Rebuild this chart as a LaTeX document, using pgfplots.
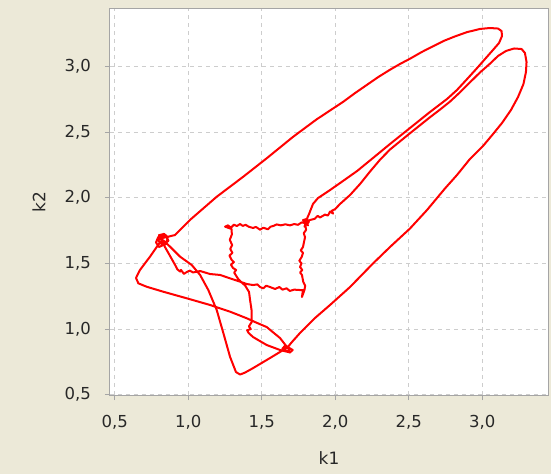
\documentclass[border=0pt]{standalone}
\usepackage{fontspec}
\setmainfont{DejaVu Sans}
\usepackage{pgfplots}
\pgfplotsset{compat=1.18}

\definecolor{panelbg}{RGB}{236,233,216}
\definecolor{gridgray}{RGB}{205,205,205}
\definecolor{framegray}{RGB}{165,165,165}
\definecolor{labelgray}{RGB}{40,40,40}

\begin{document}
\begin{tikzpicture}
% panel behind the chart
\fill[panelbg] (-110bp,-79bp) rectangle (441bp,395bp);
\useasboundingbox (-110bp,-79bp) rectangle (441bp,395bp);
\begin{axis}[
  at={(0,0)}, anchor=south west,
  scale only axis, width=438bp, height=386bp,
  xmin=0.467, xmax=3.447, ymin=0.497, ymax=3.439,
  xtick={0.5,1,1.5,2,2.5,3}, ytick={0.5,1,1.5,2,2.5,3},
  xticklabel={\pgfmathprintnumber[fixed,fixed zerofill,precision=1,use comma,assume math mode=true]{\tick}},
  yticklabel={\pgfmathprintnumber[fixed,fixed zerofill,precision=1,use comma,assume math mode=true]{\tick}},
  tick label style={font=\fontsize{16.5bp}{19bp}\selectfont, text=labelgray},
  xticklabel style={anchor=north, inner sep=0pt, yshift=-15.5bp},
  yticklabel style={anchor=east, inner sep=0pt, xshift=-14bp},
  tick align=outside, tick pos=left,
  major tick length=5bp,
  tick style={framegray, line width=1bp},
  axis line style={framegray, line width=1bp},
  axis background/.style={fill=white},
  grid=major,
  major grid style={gridgray, dash pattern=on 4bp off 4bp, line width=0.8bp},
  xlabel={k1}, ylabel={k2},
  label style={font=\fontsize{17bp}{20bp}\selectfont, text=labelgray},
  xlabel style={at={([yshift=-63bp]axis description cs:0.5,0)}, anchor=center},
  ylabel style={at={([xshift=-71bp]axis description cs:0,0.5)}, anchor=center},
]
% phase trajectory (k1, k2)
\addplot[red, line width=2bp, line join=round, line cap=round] coordinates {
(0.821,1.678) (0.800,1.715) (0.835,1.725) (0.860,1.700) (0.850,1.650)
(0.800,1.625) (0.780,1.660) (0.795,1.700) (0.845,1.712) (0.865,1.672)
(0.825,1.640) (0.790,1.680) (0.830,1.695)
(0.909,1.716) (1.011,1.831) (1.193,2.008) (1.374,2.161) (1.533,2.301)
(1.714,2.466) (1.873,2.598) (2.054,2.732) (2.134,2.798) (2.214,2.860)
(2.293,2.921) (2.372,2.976) (2.440,3.020) (2.508,3.060) (2.586,3.110)
(2.665,3.155) (2.740,3.197) (2.814,3.230) (2.894,3.262) (2.984,3.287)
(3.052,3.294) (3.107,3.290) (3.131,3.271) (3.134,3.233)
(3.114,3.180) (3.073,3.127) (3.025,3.066) (2.971,2.997) (2.903,2.913)
(2.828,2.822) (2.760,2.753) (2.644,2.654) (2.508,2.532) (2.372,2.410)
(2.256,2.303) (2.148,2.204) (2.052,2.128) (1.964,2.059) (1.882,1.998)
(1.848,1.953) (1.821,1.876) (1.794,1.808)
(1.815,1.790) (1.780,1.830) (1.810,1.840) (1.790,1.780) (1.820,1.815)
(1.800,1.815)
(1.828,1.831) (1.860,1.840) (1.880,1.862) (1.896,1.850) (1.930,1.872)
(1.950,1.865) (1.964,1.895) (1.985,1.880) (1.975,1.900) (2.000,1.915)
(2.032,1.953) (2.100,2.021) (2.168,2.105) (2.236,2.200) (2.304,2.290)
(2.372,2.368) (2.440,2.430) (2.508,2.492) (2.576,2.553) (2.644,2.614)
(2.712,2.672) (2.780,2.733) (2.848,2.804) (2.916,2.880) (2.984,2.955)
(3.052,3.022) (3.107,3.081) (3.161,3.119) (3.216,3.138) (3.267,3.134)
(3.290,3.104) (3.301,3.035) (3.297,2.959) (3.280,2.867) (3.243,2.768)
(3.195,2.669) (3.134,2.570) (3.073,2.486) (3.005,2.395) (2.916,2.296)
(2.828,2.174) (2.746,2.071) (2.624,1.907) (2.508,1.766) (2.372,1.625)
(2.256,1.499) (2.100,1.320) (1.964,1.183) (1.862,1.084) (1.760,0.970)
(1.705,0.901) (1.671,0.855)
(1.700,0.845) (1.660,0.875) (1.640,0.850) (1.690,0.820) (1.710,0.840)
(1.680,0.860) (1.685,0.825)
(1.678,0.825) (1.624,0.840) (1.533,0.878) (1.440,0.939) (1.410,0.970)
(1.400,0.990) (1.425,1.000) (1.412,1.020) (1.431,1.053)
(1.430,1.145) (1.420,1.221) (1.413,1.282) (1.386,1.332) (1.359,1.358)
(1.340,1.380) (1.329,1.399) (1.312,1.430) (1.325,1.450) (1.304,1.465)
(1.290,1.490) (1.310,1.510) (1.295,1.526) (1.280,1.560) (1.300,1.580)
(1.285,1.610) (1.298,1.640) (1.282,1.680) (1.296,1.720) (1.294,1.762)
(1.250,1.780) (1.270,1.790) (1.290,1.772) (1.310,1.795) (1.330,1.785)
(1.352,1.800) (1.370,1.786) (1.390,1.794) (1.410,1.780) (1.440,1.770)
(1.460,1.778) (1.488,1.757) (1.510,1.772) (1.542,1.760) (1.560,1.780)
(1.580,1.786) (1.601,1.797) (1.630,1.790) (1.660,1.798) (1.692,1.790)
(1.720,1.800) (1.746,1.794) (1.770,1.812) (1.794,1.808)
(1.801,1.755) (1.785,1.730) (1.794,1.701) (1.780,1.625) (1.765,1.600)
(1.780,1.580) (1.771,1.549) (1.755,1.520) (1.770,1.500) (1.760,1.473)
(1.775,1.450) (1.760,1.430) (1.773,1.412) (1.782,1.358) (1.795,1.330)
(1.790,1.297) (1.773,1.244) (1.780,1.297)
(1.760,1.297) (1.720,1.300) (1.690,1.290) (1.669,1.310) (1.640,1.300)
(1.620,1.320) (1.590,1.305) (1.556,1.320) (1.530,1.330) (1.510,1.310)
(1.488,1.320) (1.470,1.340) (1.440,1.335) (1.397,1.343) (1.352,1.361)
(1.284,1.386) (1.216,1.412) (1.148,1.419) (1.080,1.442) (1.032,1.431)
(1.010,1.445) (0.989,1.434) (0.970,1.420) (0.950,1.450) (0.944,1.438)
(0.925,1.455) (0.910,1.488) (0.876,1.556) (0.841,1.625) (0.821,1.678)
(0.794,1.640) (0.739,1.551) (0.671,1.450) (0.644,1.389) (0.660,1.348)
(0.717,1.322) (0.830,1.284) (0.989,1.234) (1.148,1.183) (1.284,1.132)
(1.397,1.082) (1.454,1.053) (1.533,1.015) (1.624,0.931) (1.671,0.863)
(1.646,0.840) (1.556,0.779) (1.442,0.703) (1.386,0.668) (1.352,0.653)
(1.324,0.672) (1.284,0.787) (1.238,0.970) (1.193,1.145) (1.136,1.297)
(1.080,1.412) (1.023,1.488) (0.944,1.551) (0.876,1.627) (0.828,1.678)
};
\end{axis}
\end{tikzpicture}
\end{document}
